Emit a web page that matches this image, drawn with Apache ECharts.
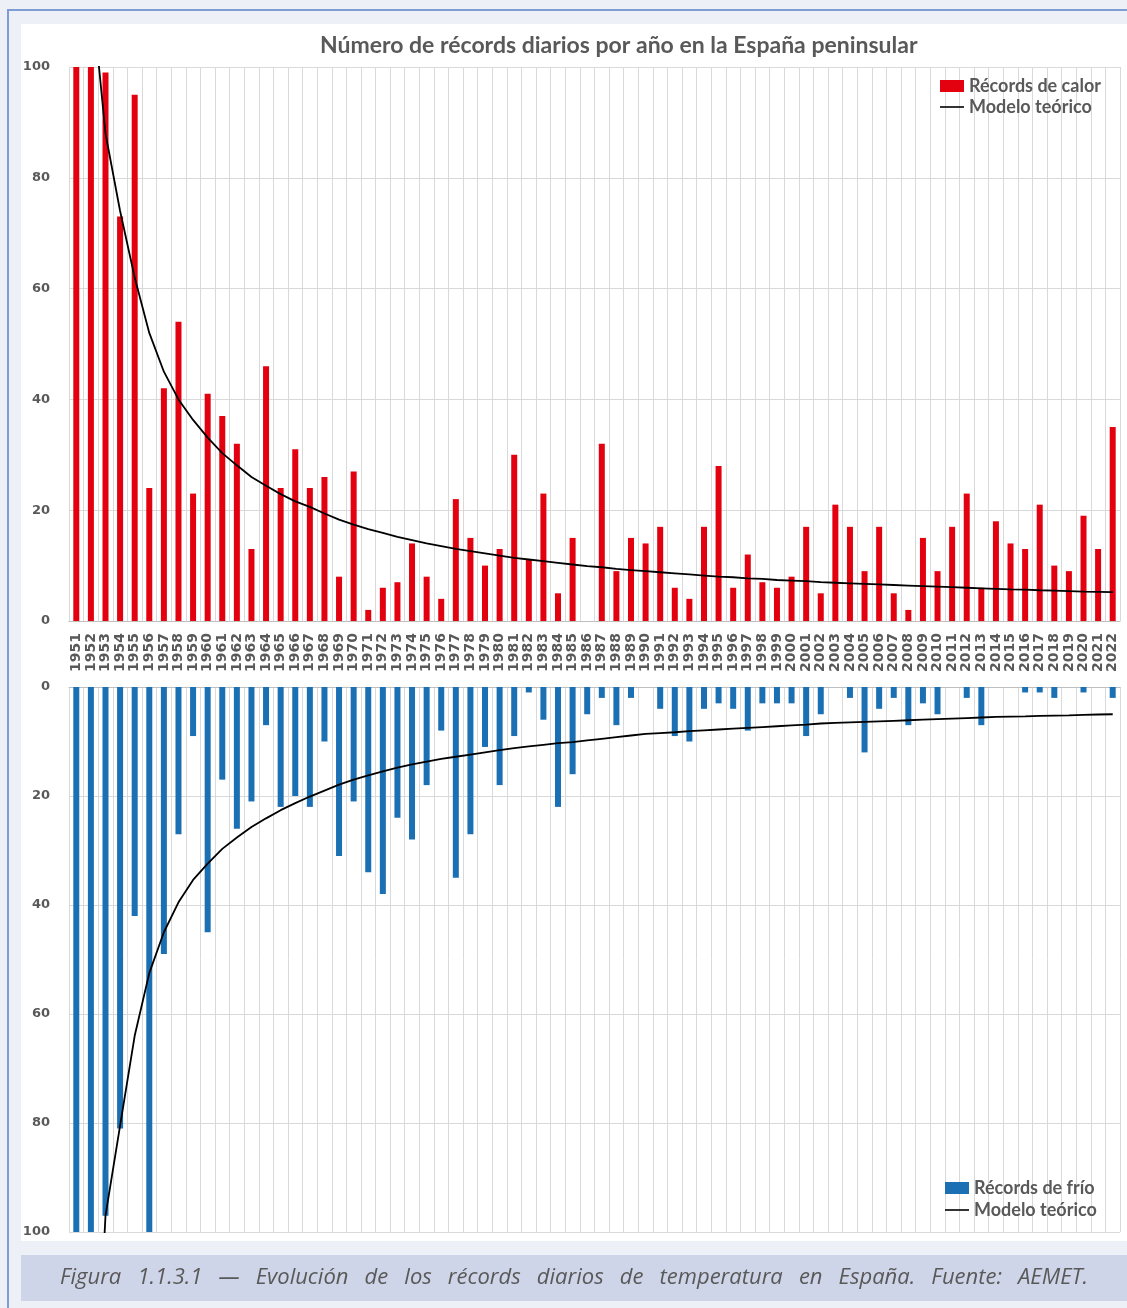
<!DOCTYPE html>
<html>
<head>
<meta charset="utf-8">
<script src="https://cdn.jsdelivr.net/npm/echarts@6/dist/echarts.min.js"></script>
<style>
html,body{margin:0;padding:0;background:#eef0f8;}
#chart{width:1127px;height:1308px;}
</style>
</head>
<body>
<div id="chart"></div>
<script>
// ---- DATA ----
const years = [];
for (let y = 1951; y <= 2022; y++) years.push(String(y));

const recordsCalor = [
  100,100,99,73,95,24,42,54,23,41,
  37,32,13,46,24,31,24,26,8,27,
  2,6,7,14,8,4,22,15,10,13,
  30,11,23,5,15,0,32,9,15,14,
  17,6,4,17,28,6,12,7,6,8,
  17,5,21,17,9,17,5,2,15,9,
  17,23,6,18,14,13,21,10,9,19,
  13,35
];
const modeloCalor = [
  165,115,88,74,62,52,45,40,36.3,33.1,
  30.3,28.1,26,24.4,22.9,21.6,20.6,19.4,18.3,17.4,
  16.6,15.9,15.2,14.6,14.0,13.5,13.0,12.6,12.2,11.8,
  11.4,11.1,10.8,10.5,10.2,9.9,9.7,9.4,9.2,9.0,
  8.8,8.6,8.4,8.2,8.0,7.9,7.7,7.6,7.4,7.3,
  7.2,7.0,6.9,6.8,6.7,6.6,6.5,6.4,6.3,6.2,
  6.1,6.0,5.9,5.8,5.7,5.65,5.55,5.5,5.4,5.3,
  5.25,5.2
];
const recordsFrio = [
  100,100,97,81,42,100,49,27,9,45,
  17,26,21,7,22,20,22,10,31,21,
  34,38,24,28,18,8,35,27,11,18,
  9,1,6,22,16,5,2,7,2,0,
  4,9,10,4,3,4,8,3,3,3,
  9,5,0,2,12,4,2,7,3,5,
  0,2,7,0,0,1,1,2,0,1,
  0,2
];
const modeloFrio = [
  300,150,97,80.5,64,52.5,45,39.5,35.4,32.4,
  29.7,27.6,25.7,24.1,22.6,21.3,20.1,19,17.9,17,
  16.2,15.5,14.8,14.2,13.7,13.2,12.8,12.4,12.0,11.6,
  11.2,10.9,10.6,10.3,10.1,9.8,9.5,9.2,8.9,8.6,
  8.45,8.3,8.1,7.95,7.8,7.65,7.5,7.35,7.2,7.05,
  6.9,6.7,6.6,6.5,6.4,6.3,6.2,6.1,6.0,5.9,
  5.8,5.7,5.6,5.5,5.45,5.4,5.3,5.25,5.2,5.1,
  5.05,5.0
];
const yTicks = [0, 20, 40, 60, 80, 100];

const titleText = 'Número de récords diarios por año en la España peninsular';
const captionText = 'Figura 1.1.3.1 — Evolución de los récords diarios de temperatura en España. Fuente: AEMET.';
const nameCalor = 'Récords de calor';
const nameFrio = 'Récords de frío';
const nameModelo = 'Modelo teórico';

// ---- STYLE ----
const RED = '#e3000f';
const BLUE = '#1b6fb3';
const GRID_COLOR = '#d9d9d9';
const TEXT_COLOR = '#595959';

// caption justified layout
const captionFont = 'italic 22px "Open Sans"';
const words = captionText.split(' ');
const ctx = document.createElement('canvas').getContext('2d');
ctx.font = captionFont;
const widths = words.map(w => ctx.measureText(w).width);
const cx0 = 60, cx1 = 1088;
const totalW = widths.reduce((a, b) => a + b, 0);
const gap = (cx1 - cx0 - totalW) / (words.length - 1);
const captionEls = [];
let cx = cx0;
words.forEach((w, i) => {
  captionEls.push({
    type: 'text', x: cx, y: 1278, z: 10,
    style: { text: w, font: captionFont, fill: TEXT_COLOR, textVerticalAlign: 'middle', textAlign: 'left' }
  });
  cx += widths[i] + gap;
});

const axisLabelStyle = {
  fontFamily: 'DejaVu Sans', fontWeight: 'bold', fontSize: 13, color: TEXT_COLOR
};
const legendText = { fontFamily: 'Lato', fontWeight: 'bold', fontSize: 18, lineHeight: 20, color: TEXT_COLOR };
function legendItem(name, left, top, iconH) {
  return {
    left: left, top: top, padding: 0, itemWidth: 24, itemHeight: iconH, selectedMode: false,
    data: [{ name: name, icon: 'rect' }], textStyle: legendText
  };
}

const chart = echarts.init(document.getElementById('chart'), null, { renderer: 'canvas' });
chart.setOption({
  animation: false,
  backgroundColor: 'transparent',
  title: {
    text: titleText,
    left: 315, top: 29,
    textStyle: { fontFamily: 'Lato', fontWeight: 'bold', fontSize: 23, color: TEXT_COLOR }
  },
  graphic: [
    { type: 'rect', z: -10, shape: { x: 8, y: 10, width: 1140, height: 1340 },
      style: { fill: '#eef0f8', stroke: '#7f9dd4', lineWidth: 2 } },
    { type: 'rect', z: -9, shape: { x: 21, y: 24, width: 1106, height: 1217 },
      style: { fill: '#ffffff' } },
    { type: 'rect', z: -9, shape: { x: 21, y: 1255, width: 1106, height: 46 },
      style: { fill: '#cfd5e8' } }
  ].concat(captionEls),
  legend: [
    legendItem(nameCalor, 940, 76, 12),
    legendItem(nameModelo, 940, 97, 1.6),
    legendItem(nameFrio, 945, 1178, 12),
    legendItem(nameModelo, 945, 1200, 1.6)
  ],
  grid: [
    { left: 69, top: 67, width: 1051, height: 554 },
    { left: 69, top: 687, width: 1051, height: 545 }
  ],
  xAxis: [
    {
      type: 'category', gridIndex: 0, data: years, boundaryGap: true,
      axisLine: { show: true, lineStyle: { color: '#bfbfbf' } },
      axisTick: { show: false },
      axisLabel: Object.assign({ rotate: 90, interval: 0, margin: 12 }, axisLabelStyle, { fontSize: 14 }),
      splitLine: { show: true, interval: 0, lineStyle: { color: GRID_COLOR } }
    },
    {
      type: 'category', gridIndex: 1, data: years, boundaryGap: true, position: 'top',
      axisLine: { show: true, lineStyle: { color: '#bfbfbf' } },
      axisTick: { show: false },
      axisLabel: { show: false },
      splitLine: { show: true, interval: 0, lineStyle: { color: GRID_COLOR } }
    }
  ],
  yAxis: [
    {
      type: 'value', gridIndex: 0, min: yTicks[0], max: yTicks[yTicks.length - 1], interval: 20,
      axisLine: { show: false }, axisTick: { show: false },
      axisLabel: Object.assign({ margin: 19 }, axisLabelStyle),
      splitLine: { show: true, lineStyle: { color: GRID_COLOR } }
    },
    {
      type: 'value', gridIndex: 1, inverse: true, min: yTicks[0], max: yTicks[yTicks.length - 1], interval: 20,
      axisLine: { show: false }, axisTick: { show: false },
      axisLabel: Object.assign({ margin: 19 }, axisLabelStyle),
      splitLine: { show: true, lineStyle: { color: GRID_COLOR } }
    }
  ],
  series: [
    {
      name: nameCalor, type: 'bar', xAxisIndex: 0, yAxisIndex: 0, data: recordsCalor,
      barWidth: 6, itemStyle: { color: RED }, clip: true
    },
    {
      name: nameModelo, type: 'line', xAxisIndex: 0, yAxisIndex: 0, data: modeloCalor,
      symbol: 'none', clip: true, smooth: false, z: 5,
      lineStyle: { color: '#000000', width: 1.8 }, itemStyle: { color: '#000000' }
    },
    {
      name: nameFrio, type: 'bar', xAxisIndex: 1, yAxisIndex: 1, data: recordsFrio,
      barWidth: 6, itemStyle: { color: BLUE }, clip: true
    },
    {
      name: nameModelo, type: 'line', xAxisIndex: 1, yAxisIndex: 1, data: modeloFrio,
      symbol: 'none', clip: true, smooth: false, z: 5,
      lineStyle: { color: '#000000', width: 1.8 }, itemStyle: { color: '#000000' }
    }
  ]
});
</script>
</body>
</html>
